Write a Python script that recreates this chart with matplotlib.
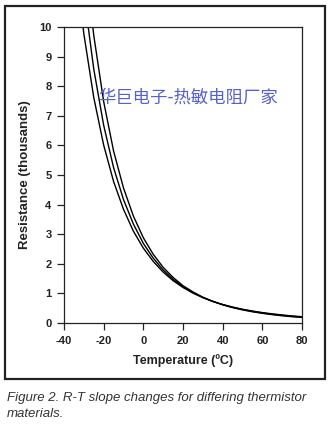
import matplotlib
matplotlib.use("Agg")
import matplotlib.pyplot as plt
from matplotlib.patches import Rectangle

plt.rcParams['font.family'] = ['Liberation Sans', 'DejaVu Sans']
plt.rcParams['axes.unicode_minus'] = False

# Temperature (deg C)
temps = [-35, -30, -25, -20, -15, -10, -5, 0, 5, 10, 15, 20, 25, 30, 35,
         40, 45, 50, 55, 60, 65, 70, 75, 80]
# Resistance (thousands of ohms), three thermistor materials
r_material_a = [12.65, 9.77, 7.62, 6.01, 4.78, 3.84, 3.10, 2.53, 2.08, 1.72, 1.43,
                1.20, 1.01, 0.857, 0.73, 0.625, 0.538, 0.465, 0.404, 0.352, 0.309,
                0.271, 0.239, 0.212]
r_material_b = [14.59, 11.13, 8.58, 6.68, 5.25, 4.17, 3.34, 2.69, 2.19, 1.79, 1.48,
                1.23, 1.03, 0.864, 0.73, 0.620, 0.530, 0.455, 0.392, 0.340, 0.296,
                0.258, 0.226, 0.199]
r_material_c = [17.0, 12.78, 9.72, 7.48, 5.81, 4.56, 3.61, 2.88, 2.32, 1.88, 1.54,
                1.26, 1.05, 0.871, 0.73, 0.615, 0.521, 0.444, 0.380, 0.327, 0.282,
                0.245, 0.213, 0.187]

x_ticks = [-40, -20, 0, 20, 40, 60, 80]
y_ticks = [0, 1, 2, 3, 4, 5, 6, 7, 8, 9, 10]

W, H = 332, 425
fig = plt.figure(figsize=(W / 100, H / 100), dpi=100)

# outer frame
fig.patches.append(Rectangle((5 / W, 1 - 379 / H), 320 / W, 373 / H,
                             transform=fig.transFigure, fill=False,
                             edgecolor='#222222', linewidth=1.6))

ax = fig.add_axes([64 / W, 1 - 323 / H, 238 / W, 296 / H])
for r in (r_material_a, r_material_b, r_material_c):
    ax.plot(temps, r, color='black', linewidth=1.0, solid_capstyle='butt')

ax.set_xlim(-40, 80)
ax.set_ylim(0, 10)
ax.set_xticks(x_ticks)
ax.set_yticks(y_ticks)
ax.tick_params(direction='out', length=5, width=0.9, color='#222222',
               labelsize=8)
ax.tick_params(axis='x', pad=4)
ax.tick_params(axis='y', pad=4)
for lab in ax.get_xticklabels() + ax.get_yticklabels():
    lab.set_fontweight('bold')
    lab.set_color('#222222')
for s in ax.spines.values():
    s.set_linewidth(0.9)
    s.set_color('#222222')

ax.set_xlabel('Temperature (ºC)', fontsize=9, fontweight='bold', color='#222222',
              labelpad=6)
ax.set_ylabel('Resistance (thousands)', fontsize=9.5, fontweight='bold',
              color='#222222', labelpad=6)

fig.text(188 / W, 1 - 98 / H, '华巨电子-热敏电阻厂家', ha='center', va='center',
         fontsize=12.5, color='#5561cc',
         family=['Noto Sans CJK SC', 'DejaVu Sans'])

fig.text(7 / W, 1 - 398 / H, 'Figure 2. R-T slope changes for differing thermistor',
         ha='left', va='center', fontsize=9.5, style='italic', color='#333333')
fig.text(7 / W, 1 - 414 / H, 'materials.', ha='left', va='center', fontsize=9.5,
         style='italic', color='#333333')

fig.savefig('out.png', dpi=100)
